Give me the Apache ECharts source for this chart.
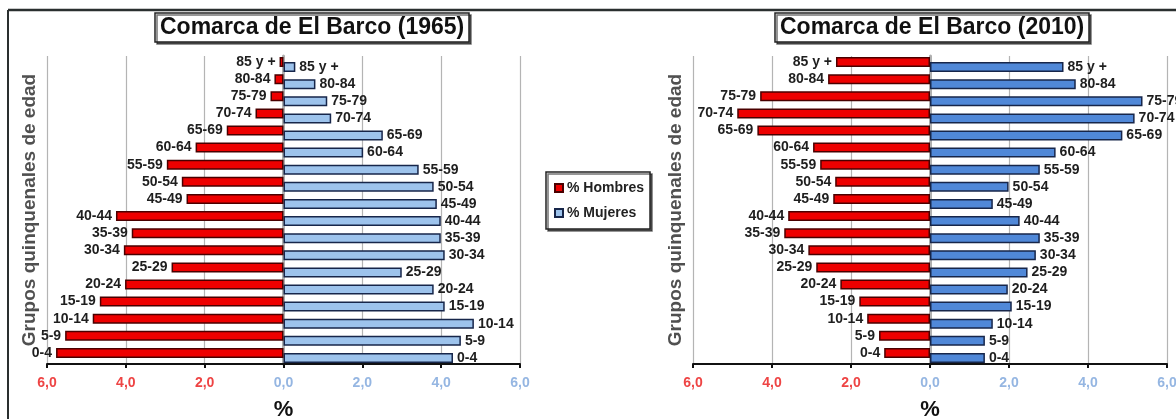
<!DOCTYPE html>
<html>
<head>
<meta charset="utf-8">
<script src="https://cdn.jsdelivr.net/npm/echarts@6/dist/echarts.min.js"></script>
<style>
html,body{margin:0;padding:0;background:#fff;}
#main{width:1176px;height:419px;}
</style>
</head>
<body>
<div id="main"></div>
<script>
// Age groups, bottom to top
const categories = ['0-4','5-9','10-14','15-19','20-24','25-29','30-34','35-39','40-44','45-49','50-54','55-59','60-64','65-69','70-74','75-79','80-84','85 y +'];
// 1965
const hombres1965 = [5.77,5.54,4.84,4.66,4.02,2.84,4.05,3.85,4.25,2.46,2.58,2.96,2.23,1.44,0.71,0.33,0.23,0.10];
const mujeres1965 = [4.30,4.50,4.83,4.09,3.81,3.00,4.09,3.99,3.99,3.89,3.81,3.43,2.02,2.52,1.21,1.11,0.81,0.30];
// 2010
const hombres2010 = [1.16,1.29,1.59,1.79,2.27,2.88,3.08,3.69,3.59,2.45,2.40,2.78,2.96,4.37,4.88,4.30,2.58,2.38];
const mujeres2010 = [1.39,1.39,1.59,2.07,1.97,2.47,2.68,2.78,2.27,1.59,1.99,2.78,3.18,4.87,5.18,5.38,3.69,3.38];
const titles = ['Comarca de El Barco (1965)','Comarca de El Barco (2010)'];
const legendNames = ['% Hombres','% Mujeres'];
const yName = 'Grupos quinquenales de edad';
const xName = '%';

const chart = echarts.init(document.getElementById('main'));
const FONT = '"Liberation Sans", Arial, sans-serif';

function xAxisCfg(gi){
  return {
    type:'value', gridIndex:gi, min:-6, max:6, interval:2,
    name:xName, nameLocation:'middle', nameGap:35,
    nameTextStyle:{fontSize:22, fontWeight:'bold', color:'#111', fontFamily:FONT},
    axisLine:{show:true, onZero:false, lineStyle:{color:'#111', width:2}},
    axisTick:{show:true, length:4, lineStyle:{color:'#111', width:2}},
    splitLine:{show:true, lineStyle:{color:'#b4b4b4', width:1.2}},
    axisLabel:{
      margin:12,
      formatter:v => (v<0?'{r|':'{b|') + Math.abs(v).toFixed(1).replace('.',',') + '}',
      rich:{
        r:{color:'#ee4444', fontSize:14, fontWeight:'bold', fontFamily:FONT},
        b:{color:'#95b6e2', fontSize:14, fontWeight:'bold', fontFamily:FONT}
      }
    }
  };
}
function yAxisCfg(gi){
  return {
    type:'category', gridIndex:gi, data:categories,
    name:yName, nameLocation:'middle', nameGap:8, nameRotate:90,
    nameTextStyle:{fontSize:19, fontWeight:'bold', color:'#505050', fontFamily:FONT},
    axisLine:{show:true, lineStyle:{color:'#b0b0b0', width:3}},
    axisTick:{show:false}, axisLabel:{show:false}, splitLine:{show:false}
  };
}
const labelStyle = {fontSize:14, fontWeight:'bold', color:'#1e1e1e', fontFamily:'"Liberation Sans Narrow", "Liberation Sans", Arial, sans-serif'};
function redSeries(gi, data){
  return {
    name:legendNames[0], type:'bar', xAxisIndex:gi, yAxisIndex:gi,
    data:data.map(v=>-v), barWidth:10, barGap:'-50%',
    itemStyle:{color:'#ee0000', borderColor:'#4a0000', borderWidth:1.5},
    label:{show:true, position:'left', distance:4, formatter:p=>p.name, ...labelStyle},
    z:3
  };
}
function blueSeries(gi, data, fill){
  return {
    name:legendNames[1], type:'bar', xAxisIndex:gi, yAxisIndex:gi,
    data:data, barWidth:10, barGap:'-50%',
    itemStyle:{color:fill, borderColor:'#17264a', borderWidth:1.5},
    label:{show:true, position:'right', distance:4, formatter:p=>p.name, ...labelStyle},
    z:2
  };
}
const titleCfg = (txt, left) => ({
  text:txt, left:left, top:13, padding:[3,5,3,5],
  backgroundColor:'#fff', borderColor:'#222', borderWidth:1.5,
  shadowColor:'rgba(0,0,0,0.55)', shadowOffsetX:2, shadowOffsetY:2, shadowBlur:0,
  textStyle:{fontSize:23, fontWeight:'bold', color:'#111', fontFamily:FONT}
});

chart.setOption({
  animation:false,
  backgroundColor:'#fff',
  title:[titleCfg(titles[0],155), titleCfg(titles[1],775)],
  legend:{
    data:legendNames, orient:'vertical', left:546, top:172,
    padding:[9,6,9,8], itemGap:11, itemWidth:8, itemHeight:8, icon:'rect',
    backgroundColor:'#fff', borderColor:'#222', borderWidth:1.5,
    shadowColor:'rgba(0,0,0,0.55)', shadowOffsetX:2, shadowOffsetY:2, shadowBlur:0,
    textStyle:{fontSize:14, fontWeight:'bold', color:'#222', fontFamily:FONT, padding:[0,0,0,-1]}
  },
  grid:[
    {left:47, right:656, top:56, bottom:55, containLabel:false, outerBoundsMode:'none'},
    {left:693, right:9, top:56, bottom:55, containLabel:false, outerBoundsMode:'none'}
  ],
  xAxis:[xAxisCfg(0), xAxisCfg(1)],
  yAxis:[yAxisCfg(0), yAxisCfg(1)],
  series:[
    redSeries(0, hombres1965), blueSeries(0, mujeres1965, '#9dc3ec'),
    redSeries(1, hombres2010), blueSeries(1, mujeres2010, '#5088d8')
  ],
  graphic:[
    {type:'line', shape:{x1:8, y1:10, x2:1176, y2:10}, style:{stroke:'#2a2f2f', lineWidth:2.5}, z:10},
    {type:'line', shape:{x1:8, y1:10, x2:8, y2:419}, style:{stroke:'#2a2f2f', lineWidth:2}, z:10}
  ]
});
</script>
</body>
</html>
